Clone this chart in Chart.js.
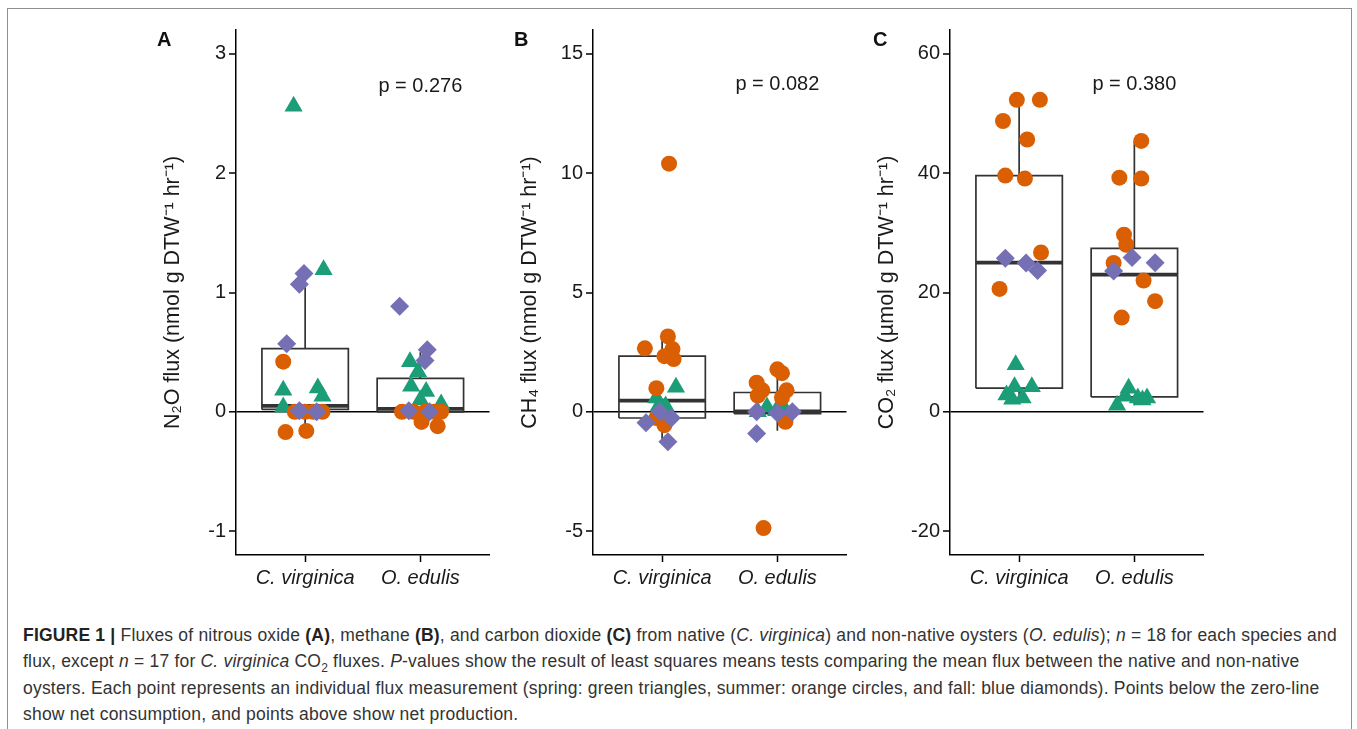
<!DOCTYPE html>
<html>
<head>
<meta charset="utf-8">
<script src="https://cdn.jsdelivr.net/npm/chart.js@4.4.1/dist/chart.umd.min.js"></script>
<style>
html,body{margin:0;padding:0;background:#fff;width:1357px;height:729px;overflow:hidden;font-family:"Liberation Sans",Arial,Helvetica,sans-serif;}
.frame{position:absolute;left:7px;top:8px;width:1343px;height:800px;border:1.5px solid #909090;border-bottom:none;}
.panel{position:absolute;top:15px;width:350px;height:585px;}
.letter{position:absolute;top:29px;font-weight:bold;font-size:20px;line-height:20px;color:#111;}
.caption{position:absolute;left:23px;top:622px;font-size:17.5px;letter-spacing:0.2px;line-height:26.3px;color:#333;white-space:nowrap;}
.caption b{color:#222;}
</style>
</head>
<body>
<div class="frame"></div>
<div class="panel" style="left:150px"><canvas id="pA" width="350" height="585"></canvas></div>
<div class="panel" style="left:507px"><canvas id="pB" width="350" height="585"></canvas></div>
<div class="panel" style="left:864px"><canvas id="pC" width="350" height="585"></canvas></div>
<div class="letter" style="left:157px">A</div>
<div class="letter" style="left:514px">B</div>
<div class="letter" style="left:873px">C</div>
<div class="caption">
<b>FIGURE 1 |</b> Fluxes of nitrous oxide <b>(A)</b>, methane <b>(B)</b>, and carbon dioxide <b>(C)</b> from native (<i>C. virginica</i>) and non-native oysters (<i>O. edulis</i>); <i>n</i> = 18 for each species and<br>
flux, except <i>n</i> = 17 for <i>C. virginica</i> CO<sub style="font-size:12px;line-height:0">2</sub> fluxes. <i>P</i>-values show the result of least squares means tests comparing the mean flux between the native and non-native<br>
oysters. Each point represents an individual flux measurement (spring: green triangles, summer: orange circles, and fall: blue diamonds). Points below the zero-line<br>
show net consumption, and points above show net production.
</div>
<script>
// ---------------- DATA ----------------
const categories = ['C. virginica', 'O. edulis'];

// Panel A: N2O flux (nmol g DTW-1 hr-1)
const n2oTicks = [-1, 0, 1, 2, 3];
const n2oSpringCV = [2.56, 1.19, 0.18, 0.20, 0.13, 0.04];
const n2oSummerCV = [0.42, 0, 0, 0, 0, -0.17, -0.16];
const n2oFallCV   = [1.16, 1.07, 0.57, 0.01, 0.0];
const n2oSpringOE = [0.42, 0.335, 0.215, 0.17, 0.10, 0.065];
const n2oSummerOE = [0, 0, 0, 0, 0, -0.085, -0.12];
const n2oFallOE   = [0.885, 0.52, 0.43, 0.01, 0.0];
const n2oLow    = [-0.17, -0.12];
const n2oQ1     = [0.02, 0.0];
const n2oMedian = [0.05, 0.025];
const n2oQ3     = [0.53, 0.28];
const n2oHigh   = [1.16, 0.50];
const n2oP = 'p = 0.276';

// Panel B: CH4 flux
const ch4Ticks = [-5, 0, 5, 10, 15];
const ch4SpringCV = [1.03, 0.58, 0.24, 0.24, 0.05];
const ch4SummerCV = [10.4, 3.16, 2.66, 2.63, 2.33, 2.21, 0.99, -0.26, -0.56];
const ch4FallCV   = [-0.46, -1.25, -0.26, 0.0];
const ch4SpringOE = [0.2, 0.12, 0.05, 0.15, 0.0];
const ch4SummerOE = [1.78, 1.62, 1.22, 0.9, 0.68, 0.9, 0.6, -0.42, -4.87];
const ch4FallOE   = [-0.91, 0.0, 0.0, -0.05];
const ch4Low    = [-1.2, -0.79];
const ch4Q1     = [-0.26, -0.08];
const ch4Median = [0.47, 0.02];
const ch4Q3     = [2.33, 0.81];
const ch4High   = [3.16, 1.7];
const ch4P = 'p = 0.082';

// Panel C: CO2 flux (umol g DTW-1 hr-1)
const co2Ticks = [-20, 0, 20, 40, 60];
const co2SpringCV = [7.9, 4.2, 4.2, 2.8, 2.3, 2.1];
const co2SummerCV = [52.3, 52.3, 48.75, 45.65, 39.6, 39.1, 26.7, 20.6];
const co2FallCV   = [25.75, 24.95, 23.7];
const co2SpringOE = [3.95, 2.6, 2.3, 2.3, 2.0, 1.1];
const co2SummerOE = [45.4, 39.25, 39.1, 29.7, 28.0, 24.95, 22.0, 18.55, 15.8];
const co2FallOE   = [25.87, 25.0, 23.6];
const co2Low    = [2.1, 1.1];
const co2Q1     = [3.96, 2.5];
const co2Median = [25.0, 23.0];
const co2Q3     = [39.6, 27.4];
const co2High   = [52.3, 45.4];
const co2P = 'p = 0.380';

// horizontal jitter offsets (category units)
const n2oSpringCVJit = [-0.10, 0.16, -0.19, 0.11, 0.15, -0.19];
const n2oSummerCVJit = [-0.19, -0.09, 0.0, 0.07, 0.15, -0.17, 0.01];
const n2oFallCVJit   = [-0.01, -0.05, -0.16, -0.05, 0.10];
const n2oSpringOEJit = [-0.09, -0.02, -0.08, 0.05, 0.0, 0.18];
const n2oSummerOEJit = [-0.16, -0.06, 0.04, 0.12, 0.18, 0.01, 0.15];
const n2oFallOEJit   = [-0.18, 0.06, 0.04, -0.1, 0.08];
const ch4SpringCVJit = [0.12, -0.05, -0.03, 0.03, 0.0];
const ch4SummerCVJit = [0.06, 0.05, -0.15, 0.09, 0.02, 0.10, -0.05, -0.05, 0.02];
const ch4FallCVJit   = [-0.14, 0.05, 0.08, -0.02];
const ch4SpringOEJit = [-0.09, 0.03, -0.01, 0.06, -0.17];
const ch4SummerOEJit = [0.0, 0.04, -0.18, -0.13, -0.17, 0.08, 0.04, 0.07, -0.12];
const ch4FallOEJit   = [-0.18, -0.18, 0.13, 0.0];
const co2SpringCVJit = [-0.03, -0.04, 0.11, -0.11, 0.03, -0.06];
const co2SummerCVJit = [-0.02, 0.18, -0.14, 0.07, -0.12, 0.05, 0.19, -0.17];
const co2FallCVJit   = [-0.12, 0.06, 0.16];
const co2SpringOEJit = [-0.05, -0.08, 0.03, 0.11, 0.07, -0.15];
const co2SummerOEJit = [0.06, -0.13, 0.06, -0.09, -0.07, -0.18, 0.08, 0.18, -0.11];
const co2FallOEJit   = [-0.02, 0.18, -0.18];

// ---------------- STYLE ----------------
const GREEN = '#1B9E77', ORANGE = '#D95F02', PURPLE = '#7570B3';
const BOXCOL = '#333333';
const TXT = '#1a1a1a';
const BOXHALF = 0.375;

function pts(cv, cvJ, oe, oeJ) {
  const out = [];
  cv.forEach((v, i) => out.push({x: 1 + cvJ[i], y: v}));
  oe.forEach((v, i) => out.push({x: 2 + oeJ[i], y: v}));
  return out;
}

function lineDs(data, width, order) {
  return {type: 'scatter', data, showLine: true, pointRadius: 0, borderColor: BOXCOL,
    borderWidth: width, fill: false, tension: 0, order, borderJoinStyle: 'miter',
    borderCapStyle: 'butt', clip: false};
}

function makePanel(id, p) {
  const datasets = [];
  for (let i = 0; i < 2; i++) {
    const c = i + 1;
    datasets.push(lineDs([
      {x: c - BOXHALF, y: p.q1[i]}, {x: c + BOXHALF, y: p.q1[i]},
      {x: c + BOXHALF, y: p.q3[i]}, {x: c - BOXHALF, y: p.q3[i]},
      {x: c - BOXHALF, y: p.q1[i]}], 1.7, 5));
    datasets.push(lineDs([{x: c, y: p.q3[i]}, {x: c, y: p.high[i]}], 1.7, 5));
    datasets.push(lineDs([{x: c, y: p.q1[i]}, {x: c, y: p.low[i]}], 1.7, 5));
    datasets.push(lineDs([{x: c - BOXHALF, y: p.med[i]}, {x: c + BOXHALF, y: p.med[i]}], 3.6, 4));
  }
  datasets.push({type: 'scatter', data: pts(p.spCV, p.spCVJ, p.spOE, p.spOEJ), pointStyle: 'triangle',
    pointRadius: 10.5, pointBackgroundColor: GREEN, pointBorderColor: GREEN, pointBorderWidth: 0, order: 3});
  datasets.push({type: 'scatter', data: pts(p.suCV, p.suCVJ, p.suOE, p.suOEJ), pointStyle: 'circle',
    pointRadius: 8, pointBackgroundColor: ORANGE, pointBorderColor: ORANGE, pointBorderWidth: 0, order: 2});
  datasets.push({type: 'scatter', data: pts(p.faCV, p.faCVJ, p.faOE, p.faOEJ), pointStyle: 'rectRot',
    pointRadius: 9.5, pointBackgroundColor: PURPLE, pointBorderColor: PURPLE, pointBorderWidth: 0, order: 1});

  const span = p.ticks[p.ticks.length - 1] - p.ticks[0];
  const pad = span * 0.05;

  const pLabel = {
    id: 'pLabel',
    afterDatasetsDraw(chart) {
      const ctx = chart.ctx;
      ctx.save();
      ctx.fillStyle = TXT;
      ctx.font = '20px "Liberation Sans", Arial, sans-serif';
      ctx.textAlign = 'center';
      ctx.textBaseline = 'middle';
      ctx.fillText(p.pText, chart.scales.x.getPixelForValue(2), chart.scales.y.getPixelForValue(p.pY));
      ctx.restore();
    }
  };

  new Chart(document.getElementById(id), {
    type: 'scatter',
    data: {datasets},
    plugins: [pLabel],
    options: {
      responsive: false,
      animation: false,
      events: [],
      layout: {padding: {left: 0, right: 7, top: 14, bottom: 0}},
      plugins: {legend: {display: false}, tooltip: {enabled: false}},
      scales: {
        x: {
          type: 'linear', min: 0.4, max: 2.6,
          afterBuildTicks: s => { s.ticks = [1, 2].map(v => ({value: v})); },
          afterFit: s => { s.height = 45; },
          ticks: {
            callback: v => categories[Math.round(v) - 1],
            font: {size: 20, style: 'italic', family: '"Liberation Sans", Arial, sans-serif'},
            color: TXT, padding: 4, maxRotation: 0, autoSkip: false
          },
          grid: {drawOnChartArea: false, drawTicks: true, tickLength: 7, tickColor: '#000', tickWidth: 1.5},
          border: {display: true, color: '#000', width: 1.5}
        },
        y: {
          type: 'linear', min: p.ticks[0] - pad, max: p.ticks[p.ticks.length - 1] + pad,
          afterBuildTicks: s => { s.ticks = p.ticks.map(v => ({value: v})); },
          afterFit: s => { s.width = 86; },
          ticks: {
            font: {size: 20, family: '"Liberation Sans", Arial, sans-serif'},
            color: TXT, padding: 3, autoSkip: false
          },
          grid: {
            drawOnChartArea: true, drawTicks: true, tickLength: 7,
            color: c => (c.tick && c.tick.value === 0) ? '#000' : 'rgba(0,0,0,0)',
            lineWidth: c => (c.tick && c.tick.value === 0) ? 1.6 : 0,
            tickColor: '#000', tickWidth: 1.5
          },
          border: {display: true, color: '#000', width: 1.5},
          title: {
            display: true, text: p.title, color: TXT,
            font: {size: 21.5, family: '"Liberation Sans", Arial, sans-serif'},
            padding: {top: 10, bottom: 0}
          }
        }
      }
    }
  });
}

makePanel('pA', {
  ticks: n2oTicks, title: 'N\u2082O flux (nmol g DTW\u207B\u00B9 hr\u207B\u00B9)', pText: n2oP, pY: 2.73,
  spCV: n2oSpringCV, spCVJ: n2oSpringCVJit, spOE: n2oSpringOE, spOEJ: n2oSpringOEJit,
  suCV: n2oSummerCV, suCVJ: n2oSummerCVJit, suOE: n2oSummerOE, suOEJ: n2oSummerOEJit,
  faCV: n2oFallCV, faCVJ: n2oFallCVJit, faOE: n2oFallOE, faOEJ: n2oFallOEJit,
  low: n2oLow, q1: n2oQ1, med: n2oMedian, q3: n2oQ3, high: n2oHigh
});
makePanel('pB', {
  ticks: ch4Ticks, title: 'CH\u2084 flux (nmol g DTW\u207B\u00B9 hr\u207B\u00B9)', pText: ch4P, pY: 13.7,
  spCV: ch4SpringCV, spCVJ: ch4SpringCVJit, spOE: ch4SpringOE, spOEJ: ch4SpringOEJit,
  suCV: ch4SummerCV, suCVJ: ch4SummerCVJit, suOE: ch4SummerOE, suOEJ: ch4SummerOEJit,
  faCV: ch4FallCV, faCVJ: ch4FallCVJit, faOE: ch4FallOE, faOEJ: ch4FallOEJit,
  low: ch4Low, q1: ch4Q1, med: ch4Median, q3: ch4Q3, high: ch4High
});
makePanel('pC', {
  ticks: co2Ticks, title: 'CO\u2082 flux (\u00B5mol g DTW\u207B\u00B9 hr\u207B\u00B9)', pText: co2P, pY: 54.8,
  spCV: co2SpringCV, spCVJ: co2SpringCVJit, spOE: co2SpringOE, spOEJ: co2SpringOEJit,
  suCV: co2SummerCV, suCVJ: co2SummerCVJit, suOE: co2SummerOE, suOEJ: co2SummerOEJit,
  faCV: co2FallCV, faCVJ: co2FallCVJit, faOE: co2FallOE, faOEJ: co2FallOEJit,
  low: co2Low, q1: co2Q1, med: co2Median, q3: co2Q3, high: co2High
});
</script>
</body>
</html>
